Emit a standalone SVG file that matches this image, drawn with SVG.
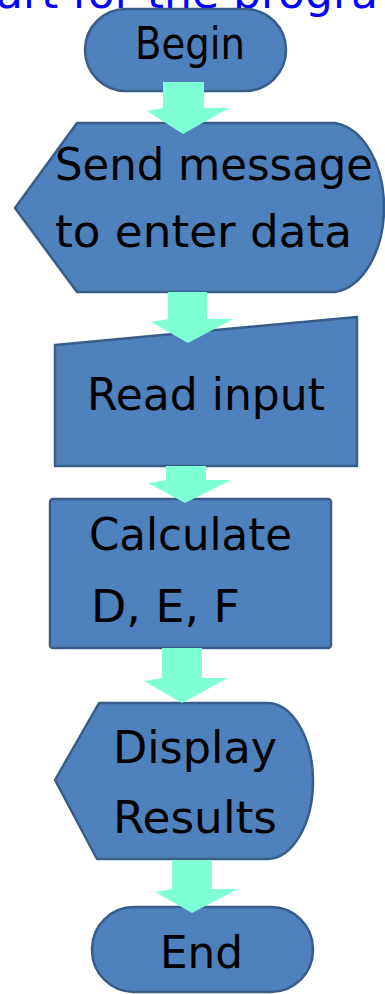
<svg xmlns="http://www.w3.org/2000/svg" width="385" height="994" viewBox="0 0 385 994">
<style>
.n{fill:#4F81BD;stroke:#385D8A;stroke-width:2.5;stroke-linejoin:round}
.t{font-family:"DejaVu Sans","Liberation Sans",sans-serif;font-size:44px;fill:#000}
.a{fill:#7FFFD4;stroke:none}
.title{font-family:"DejaVu Sans","Liberation Sans",sans-serif;font-size:44px;fill:#0000FF}
</style>
<rect width="385" height="994" fill="#fff"/>
<text class="title" x="-4" y="8">art for the progra</text>
<g id="begin">
<rect class="n" x="85" y="9" width="201" height="82" rx="41" ry="41"/>
<text class="t" x="135" y="59" font-size="42" textLength="110" lengthAdjust="spacingAndGlyphs">Begin</text>
</g>
<g id="send">
<path class="n" d="M15,208 L77,123 L335,123 A55,85 0 0 1 335,292 L77,292 Z"/>
<text class="t" x="55" y="180" textLength="318" lengthAdjust="spacingAndGlyphs">Send message</text>
<text class="t" x="55" y="247" textLength="297" lengthAdjust="spacingAndGlyphs">to enter data</text>
</g>
<g id="read">
<path class="n" d="M55,345 L357,317 L357,466 L55,466 Z"/>
<text class="t" x="87" y="410" textLength="238" lengthAdjust="spacingAndGlyphs">Read input</text>
</g>
<g id="calc">
<rect class="n" x="50" y="499" width="281" height="149" rx="3"/>
<text class="t" x="89" y="550" textLength="203" lengthAdjust="spacingAndGlyphs">Calculate</text>
<text class="t" x="91" y="622" textLength="149" lengthAdjust="spacingAndGlyphs">D, E, F</text>
</g>
<g id="display">
<path class="n" d="M55,780 L99,703 L267,703 A46,78 0 0 1 267,859 L97,859 Z"/>
<text class="t" x="113" y="763" textLength="164" lengthAdjust="spacingAndGlyphs">Display</text>
<text class="t" x="113" y="833" textLength="164" lengthAdjust="spacingAndGlyphs">Results</text>
</g>
<g id="end">
<rect class="n" x="92" y="907" width="221" height="85" rx="42" ry="42"/>
<text class="t" x="160" y="968" textLength="83" lengthAdjust="spacingAndGlyphs">End</text>
</g>
<g id="connectors">
<path class="a" d="M163,82 L204,82 L204,108 L229,108 L183,134 L147,111 L163,108 Z"/>
<path class="a" d="M168,292 L207,292 L207,319 L233,319 L188,343 L151,322 L168,319 Z"/>
<path class="a" d="M166,466 L206,466 L206,480 L231,480 L185,503 L148,483 L166,480 Z"/>
<path class="a" d="M162,648 L202,648 L202,678 L228,678 L182,703 L144,681 L162,678 Z"/>
<path class="a" d="M172,860 L212,860 L212,889 L238,889 L192,913 L155,892 L172,889 Z"/>
</g>
</svg>
